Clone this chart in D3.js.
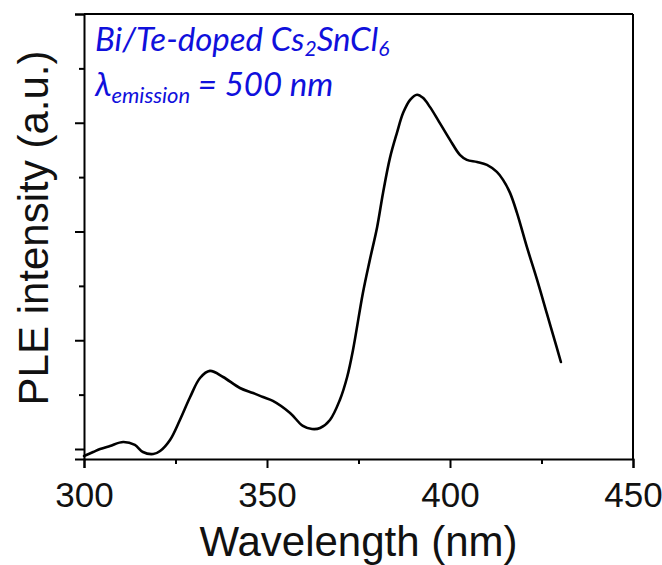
<!DOCTYPE html>
<html>
<head>
<meta charset="utf-8">
<script src="https://cdn.jsdelivr.net/npm/d3@7"></script>
<style>
  html, body { margin: 0; padding: 0; background: #fff; }
  svg { display: block; }
</style>
</head>
<body>
<svg id="chart" width="662" height="565"></svg>
<script>
// ---- data ----
const wavelength = [300.0, 302.5, 304.4, 307.1, 310.7, 313.9, 316.1, 318.9, 320.8, 323.5,
  326.2, 329.0, 331.7, 334.4, 338.0, 342.6, 346.2, 348.9, 351.6, 356.3,
  359.8, 362.3, 364.5, 367.2, 369.9, 371.9, 373.5, 376.2, 378.1, 380.1,
  381.7, 383.6, 385.5, 387.2, 389.1, 391.0, 392.6, 394.5, 396.7, 400.0,
  402.7, 404.6, 407.4, 410.1, 412.8, 414.5, 416.4, 418.3, 421.0, 423.8,
  426.5, 429.2, 430.3];
const intensity = [-0.064, -0.028, 0.0, 0.028, 0.064, 0.037, -0.028, -0.046, -0.018, 0.083,
  0.267, 0.478, 0.653, 0.718, 0.662, 0.561, 0.515, 0.478, 0.442, 0.331,
  0.212, 0.184, 0.193, 0.267, 0.451, 0.662, 0.911, 1.435, 1.739, 2.042,
  2.355, 2.677, 2.907, 3.091, 3.211, 3.257, 3.229, 3.146, 3.027, 2.843,
  2.705, 2.659, 2.640, 2.613, 2.548, 2.475, 2.355, 2.171, 1.858, 1.555,
  1.242, 0.929, 0.800];
const xTicks = [300, 350, 400, 450];
const xMinorTicks = [325, 375, 425];
const yTicks = [0, 1, 2, 3, 4];
const yMinorTicks = [0.5, 1.5, 2.5, 3.5];
const xDomain = [300, 450];
const yDomain = [-0.092, 4];
const xLabel = "Wavelength (nm)";
const yLabel = "PLE intensity (a.u.)";

// ---- layout ----
const W = 662, H = 565;
const margin = { left: 84, right: 29, top: 14, bottom: 106 };
const iw = W - margin.left - margin.right;
const ih = H - margin.top - margin.bottom;

const svg = d3.select("#chart");
const g = svg.append("g").attr("transform", `translate(${margin.left},${margin.top})`);

const x = d3.scaleLinear().domain(xDomain).range([0, iw]);
const y = d3.scaleLinear().domain(yDomain).range([ih, 0]);

const axisFont = "'Liberation Sans', Arial, sans-serif";
const textColor = "#111";

// frame (top and right)
g.append("line").attr("x1", 0).attr("x2", iw).attr("y1", 0).attr("y2", 0)
  .attr("stroke", "#000").attr("stroke-width", 2);
g.append("line").attr("x1", iw).attr("x2", iw).attr("y1", 0).attr("y2", ih)
  .attr("stroke", "#000").attr("stroke-width", 2);

// x axis
const xAxis = g.append("g").attr("transform", `translate(0,${ih})`)
  .call(d3.axisBottom(x).tickValues(xTicks).tickSize(9).tickPadding(14).tickFormat(d3.format("d")));
g.append("g").attr("transform", `translate(0,${ih})`)
  .call(d3.axisBottom(x).tickValues(xMinorTicks).tickSize(5).tickFormat(""))
  .call(s => s.select(".domain").remove());

// y axis
g.append("g")
  .call(d3.axisLeft(y).tickValues(yTicks).tickSize(9).tickFormat(""));
g.append("g")
  .call(d3.axisLeft(y).tickValues(yMinorTicks).tickSize(5).tickFormat(""))
  .call(s => s.select(".domain").remove());

g.selectAll(".domain").attr("stroke", "#000").attr("stroke-width", 2);
g.selectAll(".tick line").attr("stroke", "#000").attr("stroke-width", 2);
xAxis.selectAll(".tick text")
  .attr("font-family", axisFont).attr("font-size", 35).attr("fill", textColor);

// axis labels
svg.append("text")
  .attr("x", margin.left + iw / 2).attr("y", 556)
  .attr("text-anchor", "middle")
  .attr("font-family", axisFont).attr("font-size", 42).attr("fill", textColor)
  .text(xLabel);
svg.append("text")
  .attr("transform", `translate(48,228) rotate(-90)`)
  .attr("text-anchor", "middle")
  .attr("font-family", axisFont).attr("font-size", 42).attr("fill", textColor)
  .text(yLabel);

// data line
const data = wavelength.map((w, i) => ({ w, v: intensity[i] }));
g.append("path").datum(data)
  .attr("fill", "none").attr("stroke", "#000").attr("stroke-width", 2.6)
  .attr("stroke-linejoin", "round").attr("stroke-linecap", "round")
  .attr("d", d3.line().x(d => x(d.w)).y(d => y(d.v)).curve(d3.curveCatmullRom.alpha(0.5)));

// annotation
const blue = "#1010dc";
const annFont = "Lato, 'Open Sans', sans-serif";
const t1 = svg.append("text").attr("x", 95).attr("y", 51)
  .attr("font-family", annFont).attr("font-style", "italic").attr("font-size", 33).attr("fill", blue);
t1.append("tspan").text("Bi/Te-doped Cs");
t1.append("tspan").attr("font-size", 21).attr("dy", 5).text("2");
t1.append("tspan").attr("dy", -5).text("SnCl");
t1.append("tspan").attr("font-size", 21).attr("dy", 5).text("6");

const t2 = svg.append("text").attr("x", 95).attr("y", 96)
  .attr("font-family", annFont).attr("font-style", "italic").attr("font-size", 33).attr("fill", blue);
t2.append("tspan").text("λ");
t2.append("tspan").attr("font-size", 22).attr("dy", 7).text("emission");
t2.append("tspan").attr("dy", -7).text(" = 500 nm");
</script>
</body>
</html>
